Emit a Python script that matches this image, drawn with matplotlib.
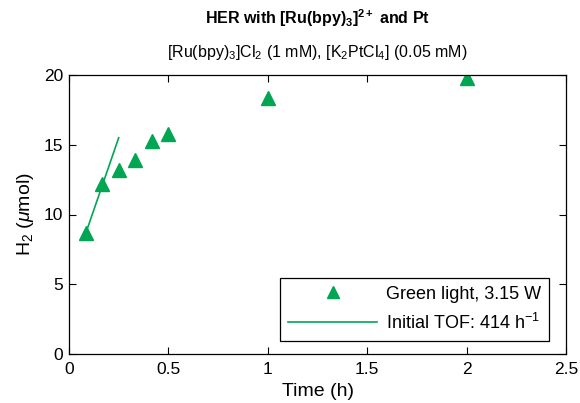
import matplotlib
matplotlib.use("Agg")
import matplotlib.pyplot as plt
import numpy as np

plt.rcParams['font.family'] = ['Liberation Sans', 'DejaVu Sans']
plt.rcParams['mathtext.fontset'] = 'custom'
plt.rcParams['mathtext.rm'] = 'Liberation Sans'
plt.rcParams['mathtext.it'] = 'Liberation Sans:italic'
plt.rcParams['mathtext.bf'] = 'Liberation Sans:bold'

time_h = [0.083, 0.167, 0.25, 0.333, 0.417, 0.5, 1.0, 2.0]
h2_umol = [8.7, 12.2, 13.2, 13.9, 15.25, 15.8, 18.35, 19.75]
fit_t = [0.083, 0.25]
fit_h2 = [8.6, 15.5]

xticks = [0, 0.5, 1, 1.5, 2, 2.5]
xticklabels = ['0', '0.5', '1', '1.5', '2', '2.5']
yticks = [0, 5, 10, 15, 20]

green = '#00A651'

fig = plt.figure(figsize=(5.8, 4.03), dpi=100)
ax = fig.add_axes([69/580, 1-354/403, (566-69)/580, (354-75)/403])

ax.plot(time_h, h2_umol, linestyle='none', marker='^', markersize=10,
        color=green, label='Green light, 3.15 W')
ax.plot(fit_t, fit_h2, color=green, linewidth=1.2,
        label='Initial TOF: 414 h$^{-1}$')

ax.set_xlim(0, 2.5)
ax.set_ylim(0, 20)
ax.set_xticks(xticks)
ax.set_xticklabels(xticklabels)
ax.set_yticks(yticks)
ax.tick_params(direction='in', top=True, right=True, length=5, width=0.8,
               labelsize=12.5)
ax.tick_params(axis='x', pad=6)
ax.tick_params(axis='y', pad=4)
for s in ax.spines.values():
    s.set_linewidth(0.9)

ax.set_xlabel('Time (h)', fontsize=14, labelpad=4)
ax.set_ylabel('H$_2$ ($\\mu$mol)', fontsize=14, labelpad=6)

fig.text(317/580, 1-18/403, r'HER with [Ru(bpy)$_\mathbf{3}$]$^\mathbf{2+}$ and Pt',
         ha='center', va='center', fontsize=11.5, fontweight='bold')
fig.text(317/580, 1-52/403, r'[Ru(bpy)$_3$]Cl$_2$ (1 mM), [K$_2$PtCl$_4$] (0.05 mM)',
         ha='center', va='center', fontsize=11.5)

leg = ax.legend(loc='lower right', fontsize=13, frameon=True, fancybox=False,
                edgecolor='black', framealpha=1, borderpad=0.45,
                handlelength=4.9, handletextpad=0.5, labelspacing=0.55,
                markerscale=0.85, bbox_to_anchor=(0.966, 0.047), borderaxespad=0)
leg.get_frame().set_linewidth(0.9)

fig.savefig('out.png', dpi=100)
